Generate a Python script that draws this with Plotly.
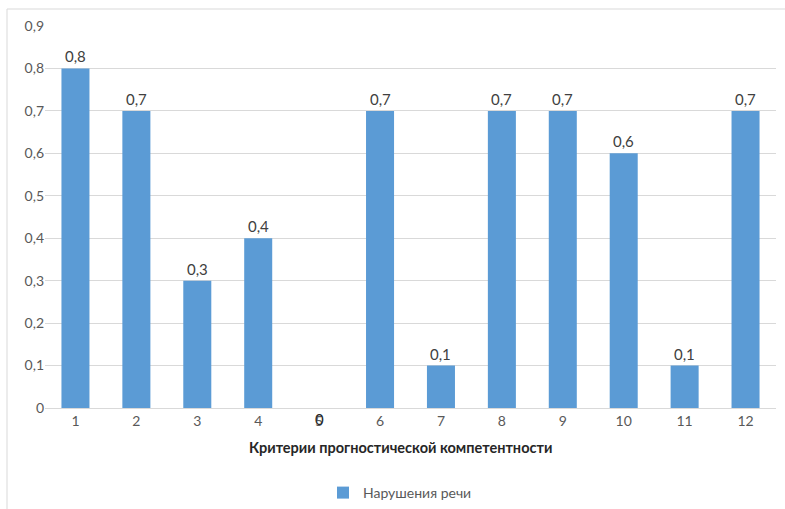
import plotly.graph_objects as go

categories = ["1", "2", "3", "4", "5", "6", "7", "8", "9", "10", "11", "12"]
values = [0.8, 0.7, 0.3, 0.4, 0, 0.7, 0.1, 0.7, 0.7, 0.6, 0.1, 0.7]
series_name = "Нарушения речи"
x_title = "Критерии прогностической компетентности"
y_ticks = [0, 0.1, 0.2, 0.3, 0.4, 0.5, 0.6, 0.7, 0.8, 0.9]
y_ticktext = ["0", "0,1", "0,2", "0,3", "0,4", "0,5", "0,6", "0,7", "0,8", "0,9"]

FONT = "Lato, 'Open Sans', sans-serif"
W, H = 785, 509
L, R, T, B = 45, 9, 26, 101
pw, ph = W - L - R, H - T - B

def px_x(p):
    return (p - L) / pw

def px_y(p):
    return (H - B - p) / ph

def fmt(v):
    return "0" if v == 0 else f"{v:.1f}".replace(".", ",")

fig = go.Figure()
fig.add_trace(go.Bar(
    x=categories, y=values, name=series_name,
    marker=dict(color="#5B9BD5", line=dict(width=0)),
    showlegend=True,
))

annotations = []
for i, v in enumerate(values):
    if v > 0:
        annotations.append(dict(x=i, y=v, xref="x", yref="y", text=fmt(v), showarrow=False,
                                yanchor="bottom", yshift=1,
                                font=dict(family=FONT, size=15, color="#404040")))
    else:
        annotations.append(dict(x=i, y=0, xref="x", yref="y", text=fmt(v), showarrow=False,
                                yanchor="middle", yshift=-11,
                                font=dict(family=FONT, size=15, color="#262626")))

annotations.append(dict(x=px_x(400), y=px_y(447), xref="paper", yref="paper",
                        text="<b>" + x_title + "</b>", showarrow=False,
                        xanchor="center", yanchor="middle",
                        font=dict(family=FONT, size=14.5, color="#262626")))

shapes = [
    dict(type="line", xref="paper", yref="paper", x0=px_x(7), x1=px_x(7), y0=px_y(9), y1=px_y(515),
         line=dict(color="#D9D9D9", width=1)),
    dict(type="line", xref="paper", yref="paper", x0=px_x(7), x1=px_x(790), y0=px_y(9), y1=px_y(9),
         line=dict(color="#D9D9D9", width=1)),
]

fig.update_layout(
    width=W, height=H,
    margin=dict(l=L, r=R, t=T, b=B, pad=0, autoexpand=False),
    paper_bgcolor="white", plot_bgcolor="white",
    bargap=0.54,
    font=dict(family=FONT, size=14, color="#595959"),
    xaxis=dict(type="category", showgrid=False, showline=True, linecolor="#D9D9D9", linewidth=1,
               ticks="", tickfont=dict(size=14, color="#595959"), zeroline=False, automargin=False),
    yaxis=dict(range=[0, 0.9], tickvals=y_ticks, ticktext=y_ticktext, showgrid=True,
               gridcolor="#D9D9D9", gridwidth=1, zeroline=False, showline=False, ticks="",
               tickfont=dict(size=14, color="#595959"), automargin=False),
    legend=dict(orientation="h", x=px_x(400), y=px_y(493), xanchor="center", yanchor="middle",
                font=dict(family=FONT, size=14, color="#595959")),
    annotations=annotations,
    shapes=shapes,
)

fig.write_html("out.html", config={"displayModeBar": False},
               post_script="document.body.style.margin='0';document.body.style.padding='0';")
